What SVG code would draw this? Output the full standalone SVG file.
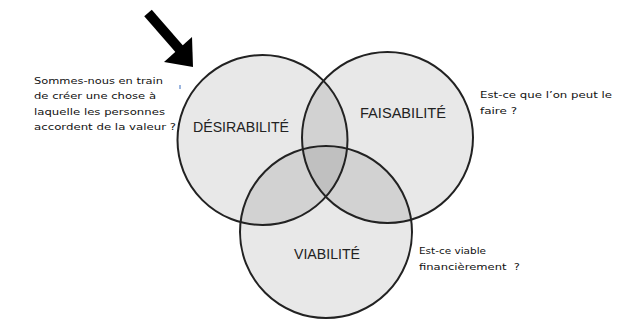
<svg xmlns="http://www.w3.org/2000/svg" width="637" height="320" viewBox="0 0 637 320">
<style>
.fill1{fill:#e8e8e8}
.fill2{fill:#d2d2d2}
.fill3{fill:#c0c0c0}
.ring{fill:none;stroke:#222;stroke-width:2}
.lbl{font-family:"Liberation Sans","DejaVu Sans",sans-serif;font-size:14px;fill:#222;text-anchor:middle}
.note{font-family:"DejaVu Sans","Liberation Sans",sans-serif;font-size:9px;fill:#111}
</style>
<defs>
<clipPath id="cA"><circle cx="262.5" cy="140" r="85"/></clipPath>
<clipPath id="cB"><circle cx="387.5" cy="137.5" r="85.5"/></clipPath>
<clipPath id="cC"><circle cx="326" cy="232" r="86"/></clipPath>
</defs>
<rect width="637" height="320" fill="#fff"/>
<g id="fills">
<circle class="fill1" cx="262.5" cy="140" r="85"/>
<circle class="fill1" cx="387.5" cy="137.5" r="85.5"/>
<circle class="fill1" cx="326" cy="232" r="86"/>
<circle class="fill2" cx="387.5" cy="137.5" r="85.5" clip-path="url(#cA)"/>
<circle class="fill2" cx="326" cy="232" r="86" clip-path="url(#cA)"/>
<circle class="fill2" cx="326" cy="232" r="86" clip-path="url(#cB)"/>
<g clip-path="url(#cA)"><circle class="fill3" cx="326" cy="232" r="86" clip-path="url(#cB)"/></g>
</g>
<g id="desirabilite">
<circle class="ring" cx="262.5" cy="140" r="85"/>
<text class="lbl" x="241" y="132" textLength="96" lengthAdjust="spacingAndGlyphs">DÉSIRABILITÉ</text>
</g>
<g id="faisabilite">
<circle class="ring" cx="387.5" cy="137.5" r="85.5"/>
<text class="lbl" x="403" y="118" textLength="86" lengthAdjust="spacingAndGlyphs">FAISABILITÉ</text>
</g>
<g id="viabilite">
<circle class="ring" cx="326" cy="232" r="86"/>
<text class="lbl" x="327" y="259" textLength="66" lengthAdjust="spacingAndGlyphs">VIABILITÉ</text>
</g>
<g id="connectors">
<line x1="148" y1="13" x2="182" y2="52" stroke="#000" stroke-width="10"/>
<polygon points="164,62 192,37 193,67" fill="#000"/>
</g>
<g id="notes">
<text class="note" x="34" y="84" textLength="129" lengthAdjust="spacingAndGlyphs">Sommes-nous en train</text>
<text class="note" x="34" y="99" textLength="122" lengthAdjust="spacingAndGlyphs">de créer une chose à</text>
<text class="note" x="34" y="115" textLength="131" lengthAdjust="spacingAndGlyphs">laquelle les personnes</text>
<text class="note" x="34" y="130" textLength="142" lengthAdjust="spacingAndGlyphs">accordent de la valeur ?</text>
<line x1="180" y1="85" x2="180" y2="89" stroke="#3a6fc0" stroke-width="1"/>
<text class="note" x="480" y="98" textLength="132" lengthAdjust="spacingAndGlyphs">Est-ce que l’on peut le</text>
<text class="note" x="480" y="114" textLength="37" lengthAdjust="spacingAndGlyphs">faire ?</text>
<text class="note" x="419" y="254" textLength="67" lengthAdjust="spacingAndGlyphs">Est-ce viable</text>
<text class="note" x="419" y="270" textLength="101" lengthAdjust="spacingAndGlyphs" xml:space="preserve">financièrement  ?</text>
</g>
</svg>
